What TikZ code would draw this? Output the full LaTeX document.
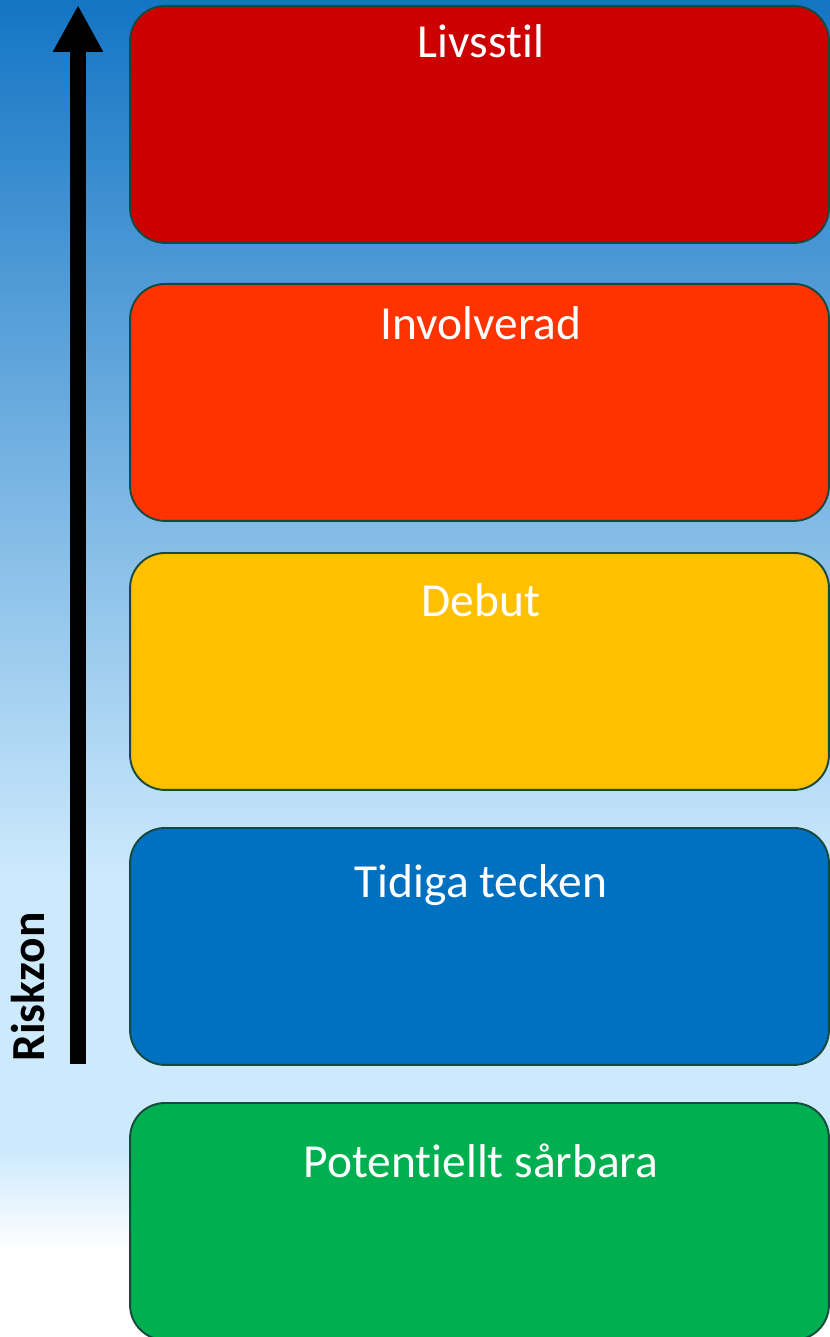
\documentclass[tikz,border=0pt]{standalone}
\usepackage{fontspec}
\setmainfont{Carlito}[Ligatures=NoCommon]
\usetikzlibrary{arrows.meta}

\definecolor{skytop}{HTML}{1475C4}
\definecolor{skymid}{HTML}{CDEAFD}
\definecolor{zoneline}{HTML}{174A3E}
\definecolor{zonered}{HTML}{CC0000}
\definecolor{zoneorange}{HTML}{FF3300}
\definecolor{zoneyellow}{HTML}{FFC000}
\definecolor{zoneblue}{HTML}{0070C0}
\definecolor{zonegreen}{HTML}{00B050}

\tikzset{
  zonebox/.style={draw=zoneline, line width=1.1pt, rounded corners=0.7cm,
    minimum width=13.98cm, minimum height=4.74cm, inner sep=0pt},
  zonelabel/.style={anchor=base, text=white, inner sep=0pt, font=\fontsize{27}{32}\selectfont},
}

\begin{document}
\begin{tikzpicture}[x=0.02cm, y=-0.02cm]
\useasboundingbox (0,0) rectangle (830,1337);
% background
\shade [top color=skytop, bottom color=skymid] (0,0) rectangle (830,881);
\fill [skymid] (0,880) rectangle (830,1151);
\shade [top color=skymid, bottom color=white] (0,1150) rectangle (830,1251);
\fill [white] (0,1250) rectangle (830,1337);
% zones
\foreach \i/\y/\b/\c/\t in {1/5/58/zonered/Livsstil,
                            2/283/340/zoneorange/Involverad,
                            3/552/616/zoneyellow/Debut,
                            4/827/897/zoneblue/Tidiga tecken,
                            5/1102/1177/zonegreen/Potentiellt sårbara} {
  \node [zonebox, fill=\c, anchor=north] (zone\i) at (479.5,\y) {};
  \node [zonelabel] (label\i) at (481,\b) {\t};
}
% risk arrow
\coordinate (arrowtail) at (78,1064);
\coordinate (arrowtip) at (78,5);
\draw [line width=0.32cm, -{Triangle[width=0.94cm, length=0.94cm]}] (arrowtail) -- (arrowtip);
\node [rotate=90, font=\fontsize{27}{32}\selectfont\bfseries] (riskzon) at (28,987) {Riskzon};
\end{tikzpicture}
\end{document}
